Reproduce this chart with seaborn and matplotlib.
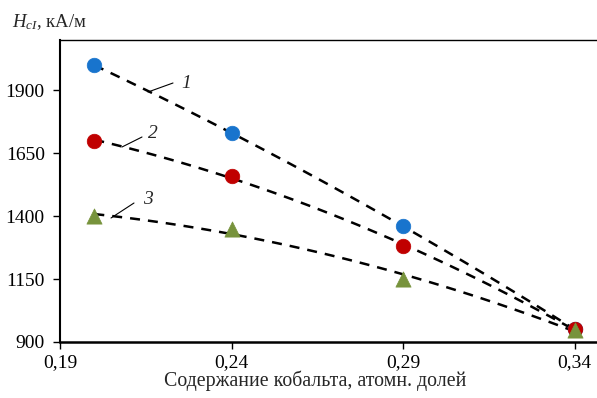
import matplotlib
matplotlib.use("Agg")
import matplotlib.pyplot as plt
import seaborn as sns
import pandas as pd
import numpy as np

x_values = [0.20, 0.24, 0.29, 0.34]
series1 = [2000, 1730, 1360, 950]
series2 = [1700, 1560, 1280, 950]
series3 = [1400, 1350, 1150, 948]
x_ticks = [0.19, 0.24, 0.29, 0.34]
x_tick_labels = ["0,19", "0,24", "0,29", "0,34"]
y_ticks = [900, 1150, 1400, 1650, 1900]
y_tick_labels = ["900", "1150", "1400", "1650", "1900"]
curve_labels = ["1", "2", "3"]

sns.set_style("white")
plt.rcParams['font.family'] = ['Liberation Serif', 'DejaVu Serif']
plt.rcParams['mathtext.fontset'] = 'custom'
plt.rcParams['mathtext.rm'] = 'Liberation Serif'
plt.rcParams['mathtext.it'] = 'Liberation Serif:italic'

fig = plt.figure(figsize=(5.97, 3.98), dpi=100)
ax = fig.add_axes([60/597, 1-342/398, 1-60/597+0.01, (342-40)/398])

styles = [("#1874CD", "o"), ("#C00000", "o"), ("#77933C", "^")]
for ys, (col, mk) in zip([series1, series2, series3], styles):
    df = pd.DataFrame({"x": x_values, "y": ys})
    sns.regplot(data=df, x="x", y="y", order=2, ci=None, scatter=False, ax=ax,
                line_kws=dict(color="black", lw=1.8, ls=(0, (4, 3.2))))
for ys, (col, mk) in zip([series1, series2, series3], styles):
    df = pd.DataFrame({"x": x_values, "y": ys})
    sns.scatterplot(data=df, x="x", y="y", ax=ax, color=col, marker=mk,
                    s=110 if mk == "o" else 120, edgecolor=col, linewidth=0.5, zorder=5)

ax.set_xlim(0.19, 0.19 + 0.15 * 537 / 509)
ax.set_ylim(900, 2100)
ax.set_xticks(x_ticks)
ax.set_xticklabels(x_tick_labels)
ax.set_yticks(y_ticks)
ax.set_yticklabels(y_tick_labels)
ax.tick_params(axis="both", labelsize=14, direction="out", length=5, width=1,
               colors="black", left=True, bottom=True)
ax.tick_params(axis="y", pad=6)
ax.set_xlabel("")
ax.set_ylabel("")
for side in ["left", "bottom", "top"]:
    ax.spines[side].set_color("black")
ax.spines["left"].set_linewidth(1.5)
ax.spines["bottom"].set_linewidth(1.8)
ax.spines["top"].set_linewidth(1.0)
ax.spines["right"].set_visible(False)

# curve number annotations with leader lines (pixel-based positions)
def px2data(px, py):
    return ax.transData.inverted().transform(fig.transFigure.transform((px/597, 1-py/398)))

annots = [((148, 92), (173, 83), (186, 84)),
          ((122, 147), (142, 137), (153, 133)),
          ((111, 218), (134, 203), (148, 200))]
for lab, (p0, p1, pt) in zip(curve_labels, annots):
    a = px2data(*p0); b = px2data(*p1); t = px2data(*pt)
    ax.plot([a[0], b[0]], [a[1], b[1]], color="black", lw=0.8)
    ax.text(t[0], t[1], lab, fontsize=14, style="italic", ha="center", va="center")

fig.text(12/597, 1-22/398, r"$H_{cI}$, кА/м", fontsize=13.5, ha="left", va="center")
fig.text(315/597, 1-381/398, "Содержание кобальта, атомн. долей", fontsize=14.3,
         ha="center", va="center")

fig.savefig("out.png", dpi=100)
